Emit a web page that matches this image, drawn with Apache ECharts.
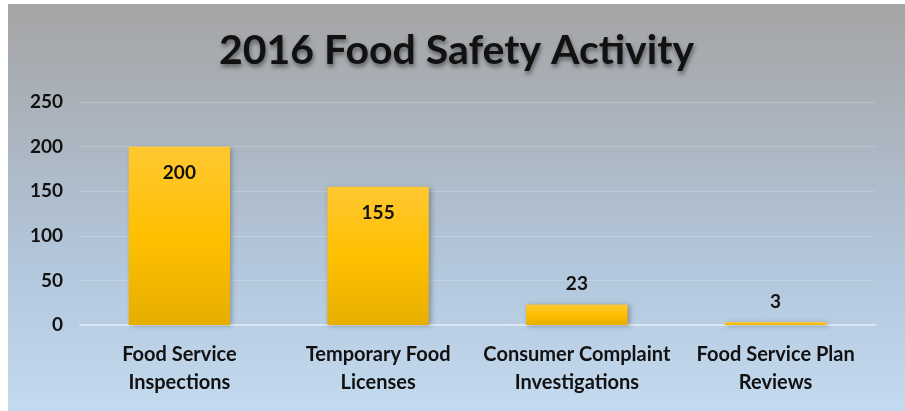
<!DOCTYPE html>
<html>
<head>
<meta charset="utf-8">
<script src="https://cdn.jsdelivr.net/npm/echarts@6/dist/echarts.min.js"></script>
<style>
  html, body { margin: 0; padding: 0; background: #ffffff; }
  #chart {
    position: absolute;
    left: 8px;
    top: 4px;
    width: 897px;
    height: 407px;
    background: linear-gradient(to bottom, #a5a5a5 0%, #abb4be 30%, #b3c7dc 65%, #c4daef 100%);
  }
</style>
</head>
<body>
<div id="chart"></div>
<script>
// 数据
var categories = [
  "Food Service\nInspections",
  "Temporary Food\nLicenses",
  "Consumer Complaint\nInvestigations",
  "Food Service Plan\nReviews"
];
var counts = [200, 155, 23, 3];
var yTicks = [0, 50, 100, 150, 200, 250];

var FONT = "Lato";

var barData = counts.map(function (v) {
  return {
    value: v,
    label: { position: v > 100 ? "insideTop" : "top", distance: v > 100 ? 17 : 11 }
  };
});

var chart = echarts.init(document.getElementById("chart"));
chart.setOption({
  backgroundColor: "transparent",
  title: {
    text: "2016 Food Safety Activity",
    left: "center",
    top: 21,
    textStyle: {
      fontFamily: FONT,
      fontSize: 41,
      fontWeight: "bold",
      color: "#111111",
      textShadowColor: "rgba(0,0,0,0.45)",
      textShadowBlur: 4,
      textShadowOffsetX: 1,
      textShadowOffsetY: 3
    }
  },
  grid: { left: 72, right: 30, top: 98, bottom: 86 },
  xAxis: {
    type: "category",
    data: categories,
    axisTick: { show: false },
    axisLine: { lineStyle: { color: "#dbe7f3", width: 2 } },
    axisLabel: {
      interval: 0,
      fontFamily: FONT,
      fontSize: 20,
      fontWeight: "bold",
      color: "#111111",
      lineHeight: 28,
      margin: 16
    }
  },
  yAxis: {
    type: "value",
    min: yTicks[0],
    max: yTicks[yTicks.length - 1],
    interval: 50,
    axisLine: { show: false },
    axisTick: { show: false },
    splitLine: { lineStyle: { color: "rgba(255,255,255,0.18)", width: 1 } },
    axisLabel: {
      fontFamily: FONT,
      fontSize: 19,
      fontWeight: "bold",
      color: "#111111",
      margin: 17
    }
  },
  series: [{
    type: "bar",
    data: barData,
    barWidth: "51%",
    itemStyle: {
      color: new echarts.graphic.LinearGradient(0, 0, 0, 1, [
        { offset: 0, color: "#ffc832" },
        { offset: 0.5, color: "#ffc000" },
        { offset: 1, color: "#e6ae00" }
      ]),
      shadowColor: "rgba(0,0,0,0.3)",
      shadowBlur: 5,
      shadowOffsetX: 2,
      shadowOffsetY: 1
    },
    label: {
      show: true,
      fontFamily: FONT,
      fontSize: 19,
      fontWeight: "bold",
      color: "#111111"
    }
  }]
});
</script>
</body>
</html>
